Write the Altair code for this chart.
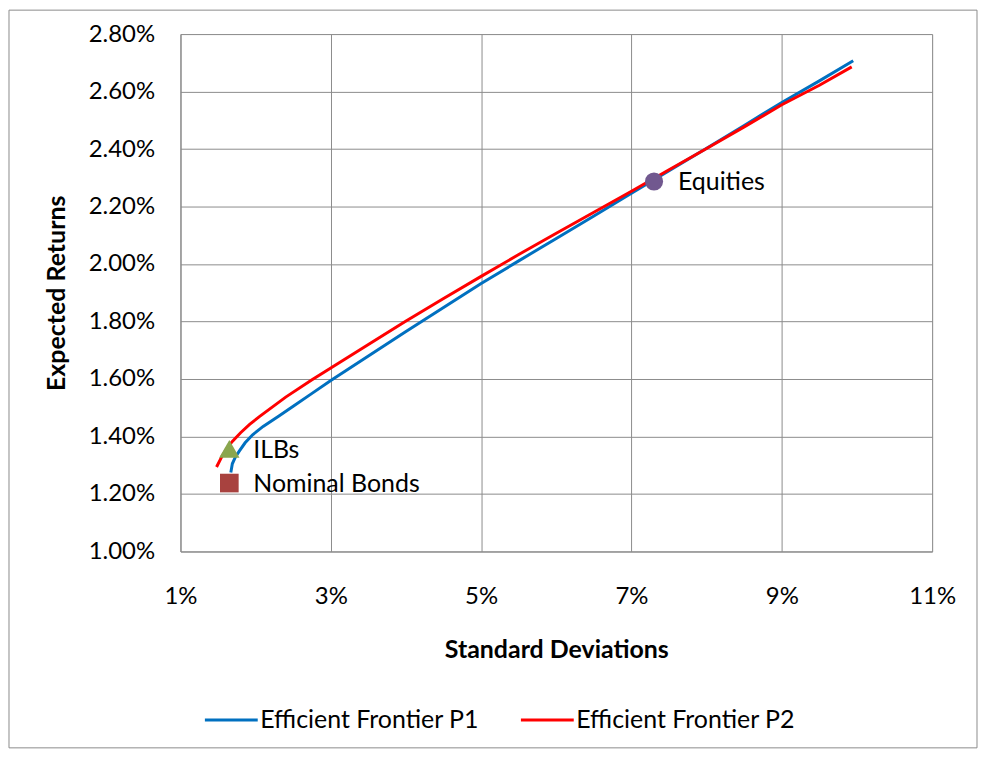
import altair as alt
import pandas as pd

# Efficient Frontier P1 (standard deviation %, expected return %)
p1_sd = [1.67, 1.69, 1.73, 1.78, 1.86, 1.96, 2.10, 2.31, 2.50, 2.75, 3.00, 3.50, 4.00, 4.50,
         5.00, 5.50, 6.00, 6.50, 7.00, 7.50, 8.00, 8.50, 9.00, 9.50, 9.95]
p1_er = [1.275, 1.305, 1.328, 1.348, 1.378, 1.406, 1.435, 1.471, 1.505, 1.550, 1.595, 1.680,
         1.765, 1.849, 1.932, 2.011, 2.089, 2.167, 2.246, 2.325, 2.403, 2.482, 2.562, 2.637, 2.707]

# Efficient Frontier P2
p2_sd = [1.48, 1.55, 1.62, 1.69, 1.80, 1.92, 2.05, 2.40, 2.75, 3.00, 3.50, 3.99, 4.50, 5.00,
         5.50, 6.00, 6.50, 7.00, 7.50, 8.00, 8.50, 9.00, 9.50, 9.93]
p2_er = [1.294, 1.330, 1.360, 1.383, 1.413, 1.442, 1.469, 1.537, 1.597, 1.638, 1.720, 1.800,
         1.880, 1.957, 2.033, 2.107, 2.180, 2.253, 2.328, 2.402, 2.477, 2.554, 2.622, 2.686]

series_names = ["Efficient Frontier P1", "Efficient Frontier P2"]
series_colors = ["#0070C0", "#FF0000"]

asset_names = ["Equities", "ILBs", "Nominal Bonds"]
asset_sd = [7.30, 1.65, 1.65]
asset_er = [2.287, 1.357, 1.238]
asset_shapes = ["circle", "triangle-up", "square"]
asset_colors = ["#71588F", "#8AA64E", "#A8423F"]
asset_sizes = [330, 420, 350]

x_ticks = [0.01, 0.03, 0.05, 0.07, 0.09, 0.11]
y_ticks = [0.010, 0.012, 0.014, 0.016, 0.018, 0.020, 0.022, 0.024, 0.026, 0.028]

FONT = "Lato"
FS_TICK = 24
FS = 25
GRID = "#8c8c8c"

rows = []
for name, sds, ers in [(series_names[0], p1_sd, p1_er), (series_names[1], p2_sd, p2_er)]:
    for i, (s, e) in enumerate(zip(sds, ers)):
        rows.append({"series": name, "sd": s / 100, "er": e / 100, "i": i})
lines_df = pd.DataFrame(rows)

assets_df = pd.DataFrame({"name": asset_names,
                          "sd": [v / 100 for v in asset_sd],
                          "er": [v / 100 for v in asset_er]})

x_enc = alt.X("sd:Q",
              scale=alt.Scale(domain=[0.01, 0.11], nice=False, zero=False),
              axis=alt.Axis(values=x_ticks, format=".0%", grid=True, gridColor=GRID,
                            domainColor=GRID, ticks=False, labelFlush=False,
                            labelFont=FONT, labelFontSize=FS_TICK,
                            labelColor="black", labelPadding=33, title="Standard Deviations",
                            titleFont=FONT, titleFontSize=FS, titleFontWeight="bold",
                            titleColor="black", titlePadding=29))
y_enc = alt.Y("er:Q",
              scale=alt.Scale(domain=[0.010, 0.028], nice=False, zero=False),
              axis=alt.Axis(values=y_ticks, format=".2%", grid=True, gridColor=GRID,
                            domainColor=GRID, ticks=False, labelFont=FONT, labelFontSize=FS_TICK,
                            labelColor="black", labelPadding=26, title="Expected Returns",
                            titleFont=FONT, titleFontSize=FS, titleFontWeight="bold",
                            titleColor="black", titlePadding=19))

lines = alt.Chart(lines_df).mark_line(strokeWidth=3).encode(
    x=x_enc, y=y_enc, order="i:Q",
    color=alt.Color("series:N",
                    scale=alt.Scale(domain=series_names, range=series_colors),
                    legend=alt.Legend(title=None, orient="none", legendX=23, legendY=660,
                                      direction="horizontal", columns=2, symbolType="stroke",
                                      symbolSize=2809, symbolStrokeWidth=3, labelFont=FONT,
                                      labelFontSize=FS, labelColor="black", labelOffset=1,
                                      labelLimit=0, columnPadding=35)))

layers = [lines]
for k in range(len(asset_names)):
    sub = assets_df.iloc[[k]]
    pts = alt.Chart(sub).mark_point(shape=asset_shapes[k], filled=True, opacity=1,
                                    color=asset_colors[k], size=asset_sizes[k]).encode(
        x="sd:Q", y="er:Q")
    layers.append(pts)

labels = alt.Chart(assets_df).mark_text(align="left", baseline="middle", dx=24, dy=1,
                                        font=FONT, fontSize=FS, color="black").encode(
    x="sd:Q", y="er:Q", text="name:N")
layers.append(labels)

border = alt.Chart(pd.DataFrame({"a": [0]})).mark_rect(filled=False, stroke="#8c8c8c",
                                                      strokeWidth=1).encode(
    x=alt.value(-172), x2=alt.value(799), y=alt.value(-24), y2=alt.value(716))
layers.append(border)

chart = alt.layer(*layers).properties(
    width=754, height=519,
    autosize=alt.AutoSizeParams(type="none"),
    padding={"left": 173, "top": 25, "right": 46, "bottom": 198},
).configure_view(stroke=None).configure(background="white")

chart.save("out.html", embed_options={"renderer": "svg", "actions": False})
